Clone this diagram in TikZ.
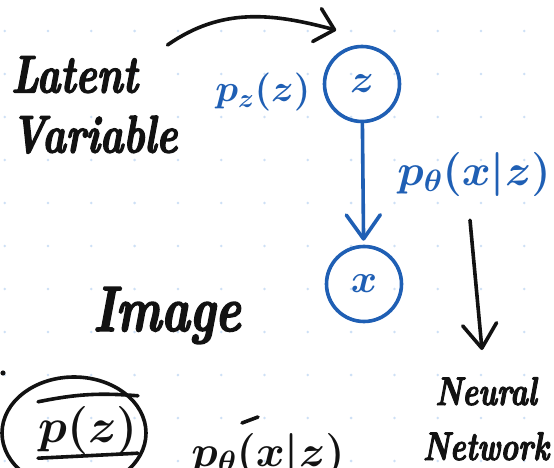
\RequirePackage{fix-cm}
\documentclass[tikz,border=0pt]{standalone}
\usepackage{amsmath}
\usepackage{fontspec}
\usepackage{tikz}
\usetikzlibrary{arrows.meta, positioning, calc}
\definecolor{ink}{RGB}{18,18,18}
\definecolor{inkblue}{RGB}{31,95,180}
\definecolor{gridblue}{RGB}{205,224,246}
% narrow, heavy italic, closer to marker lettering
\newfontfamily\handfont{lmroman10-bolditalic.otf}[FakeStretch=0.75, FakeBold=2.5]

\begin{document}
\begin{tikzpicture}[x=1pt, y=-1pt,
  hand/.style={inner sep=0pt, text=ink, font=\handfont},
  pen/.style={draw=ink, line width=3.6pt, line cap=round},
  bluepen/.style={draw=inkblue, line width=3.6pt, line cap=round},
  barb/.style={-{Straight Barb[length=#1, width=34pt, round]}},
  barb/.default=24pt,
  rv/.style={circle, draw=inkblue, line width=3.6pt, minimum size=75pt, inner sep=0pt,
    text=inkblue, font=\fontsize{40}{40}\selectfont\boldmath},
  prob/.style={inner sep=0pt, text=inkblue, font=\fontsize{44}{44}\selectfont\boldmath}]
  \clip (0,0) rectangle (554,468);
  \fill[white] (0,0) rectangle (554,468);
  % dotted paper
  \foreach \i in {0,...,12}
    \foreach \j in {0,...,10}
      \fill[gridblue] (4.7+43.3*\i, 31+43*\j) circle (1.4pt);

  % latent z generates the image x
  \node[rv] (z) at (362,84) {$z$};
  \node[rv] (x) at (364,284) {$x$};
  \draw[bluepen, barb, shorten >=4pt] (z) -- (x);
  \node[prob, font=\fontsize{38}{38}\selectfont\boldmath, left=12pt of z, yshift=-8pt] (pz) {$p_z(z)$};
  \node[prob] (pt) at (474,174) {$p_\theta(x|z)$};

  % notes
  \node[hand, font=\handfont\fontsize{53}{60}\selectfont, align=left, anchor=north west]
    (latent) at (11,56) {Latent\\Variable};
  \node[hand, font=\handfont\fontsize{64}{64}\selectfont, anchor=base west] (image) at (93,331) {Image};
  \node[hand, font=\handfont\fontsize{40}{55}\selectfont, align=center, anchor=north]
    (nn) at (486,377) {Neural\\Network};
  \draw[pen, barb=18pt] ([shift={(-10pt,11pt)}]latent.north east)
    to[out=35, in=165] ([shift={(2pt,26pt)}]z.north west);
  \draw[pen, barb] ([shift={(-4pt,-24pt)}]pt.south) -- ([shift={(-4pt,27pt)}]nn.north);

  % prior, boxed and circled
  \draw[pen] (74,433) ellipse [x radius=72pt, y radius=56pt];
  \node[hand, font=\fontsize{48}{48}\selectfont\boldmath] (prior) at (88,430) {$p(z)$};
  \draw[pen] ([yshift=4pt]prior.north west) to[bend left=8] ([yshift=10pt]prior.north east);
  \draw[pen] ([yshift=-4pt]prior.south west) -- ([yshift=1pt]prior.south east);
  \fill[ink] (3,373) circle (2.6pt);

  % likelihood, running off the page
  \node[hand, font=\fontsize{44}{44}\selectfont\boldmath, anchor=base] (lik) at (268,466) {$p_\theta(x|z)$};
  \draw[pen] (242,423) -- (258,417);
\end{tikzpicture}
\end{document}
